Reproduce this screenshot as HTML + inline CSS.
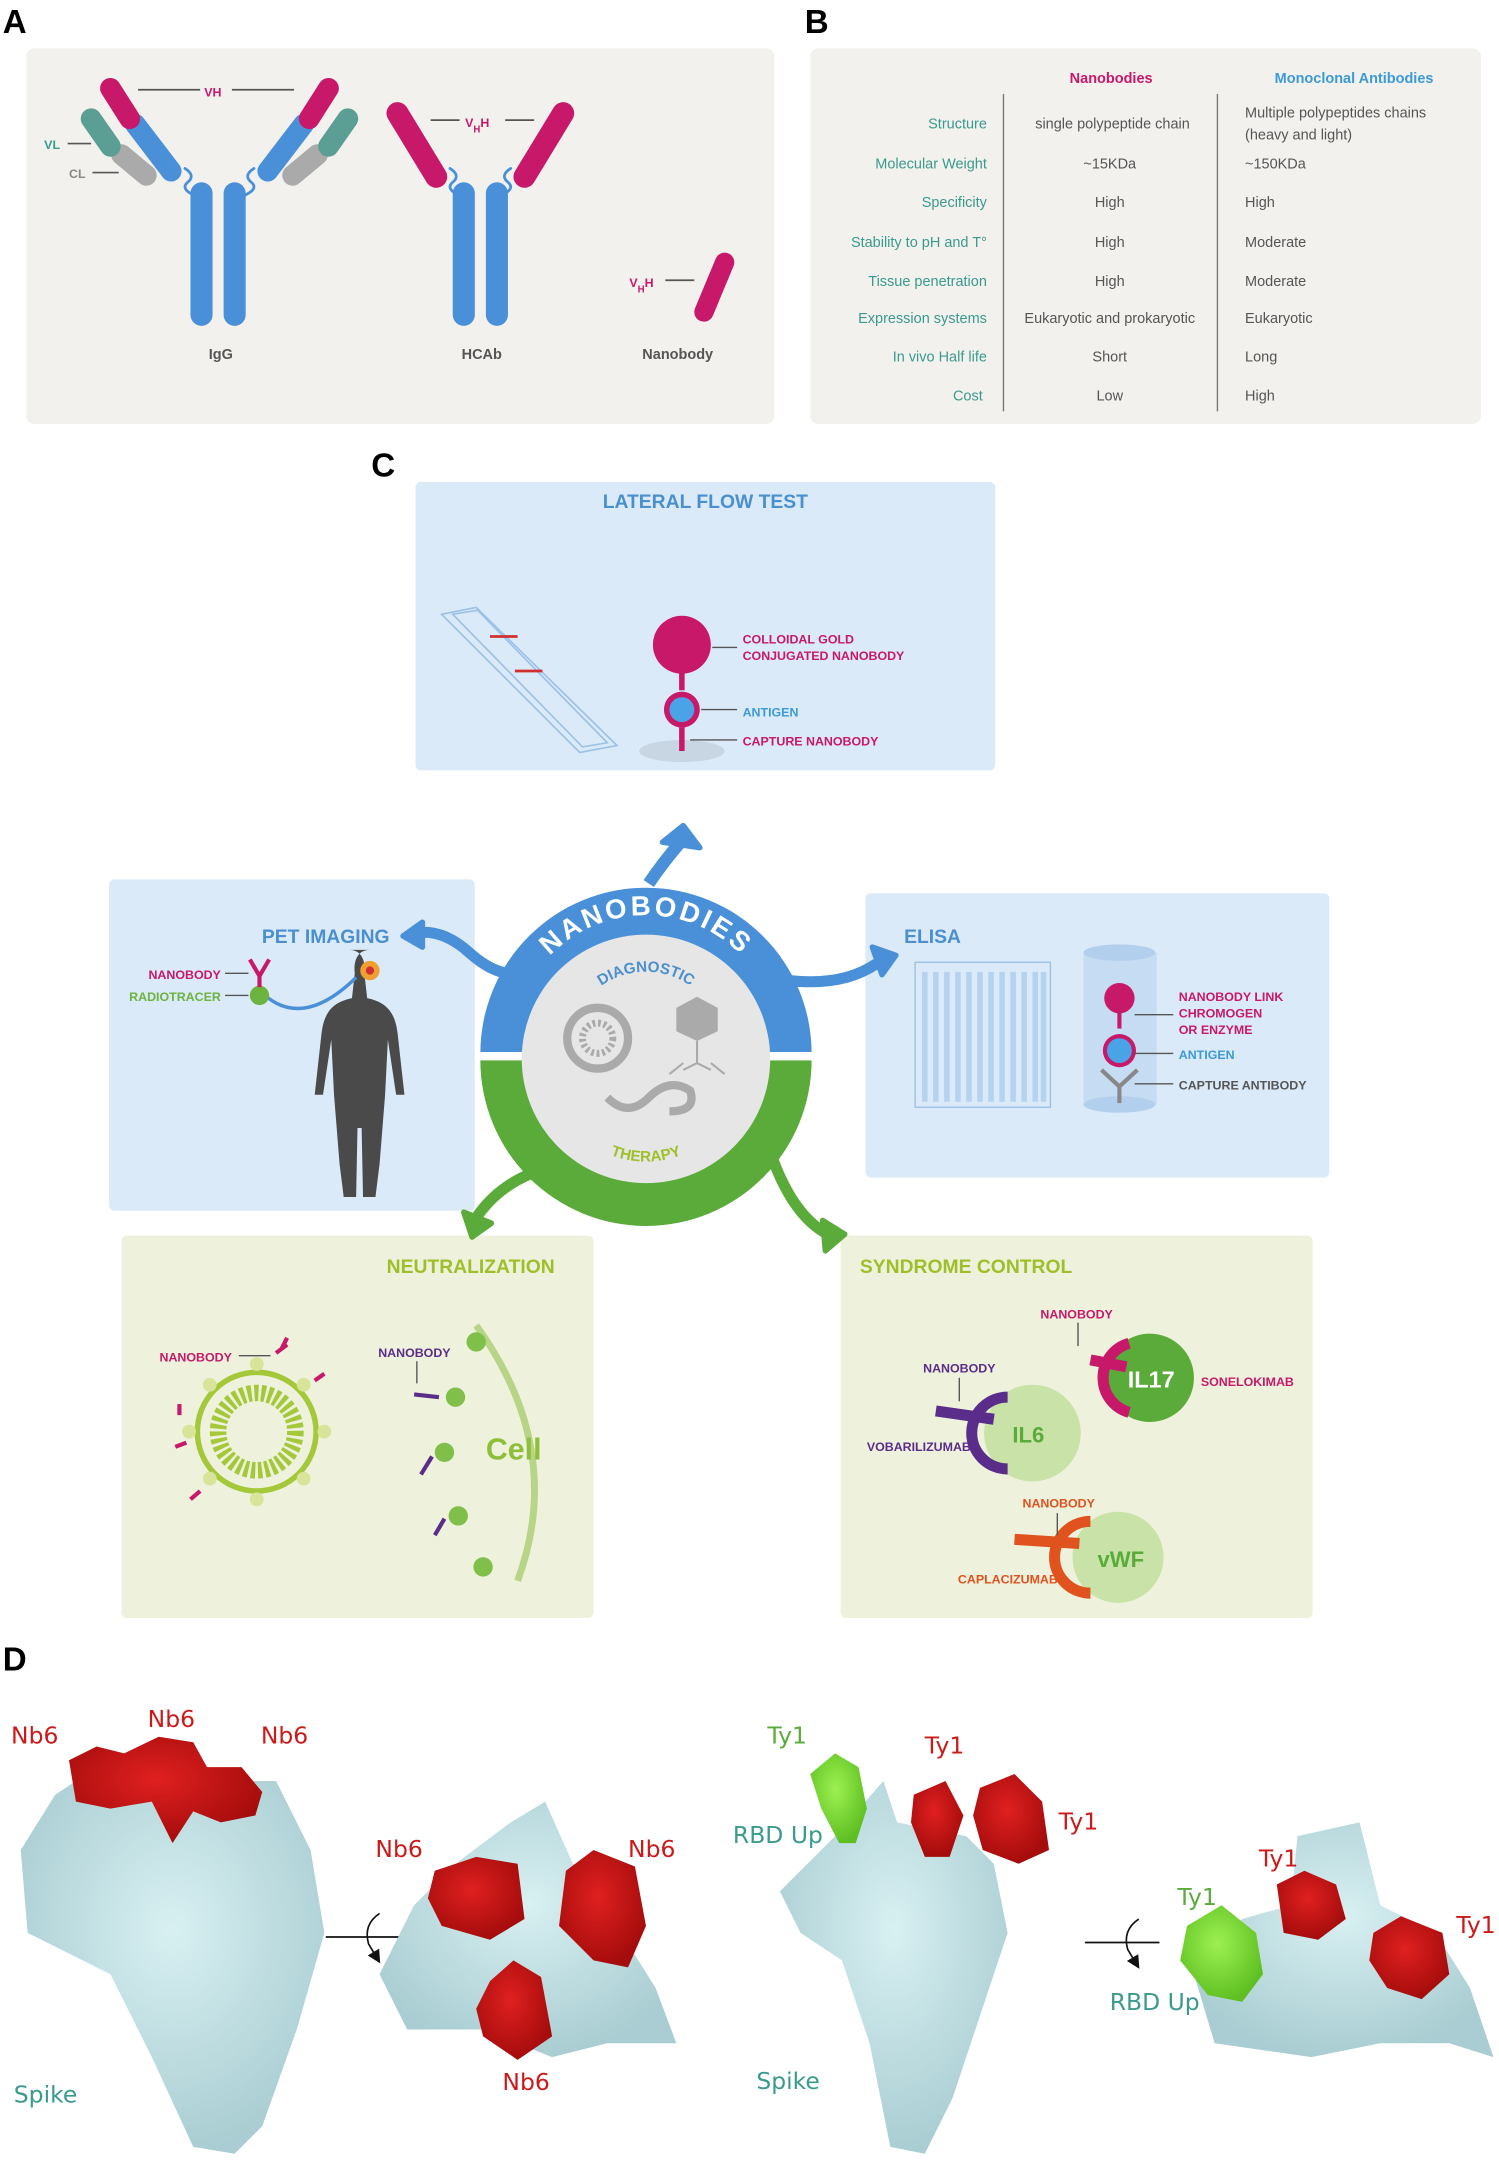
<!DOCTYPE html>
<html><head><meta charset="utf-8"><style>
html,body{margin:0;padding:0;background:#fff;}
svg{display:block;}
text{font-family:"Liberation Sans Narrow","Liberation Sans",sans-serif;}
.t{fill:#3a9a8e;font-size:10.5px;text-anchor:end;}
.g{fill:#555;font-size:10.5px;}
.gc{fill:#555;font-size:10.5px;text-anchor:middle;}
.hd{font-weight:bold;font-size:14px;}
.lb{font-weight:bold;font-size:9px;}
.big{font-family:"Liberation Sans",sans-serif;font-weight:bold;font-size:24px;fill:#000;}
.d{font-family:"DejaVu Sans","Liberation Sans",sans-serif;font-size:17px;}
</style></head><body>
<svg width="1499" height="2162" viewBox="0 0 1086 1566" preserveAspectRatio="none" xmlns="http://www.w3.org/2000/svg">
<defs>
<radialGradient id="prot" cx="50%" cy="40%" r="60%"><stop offset="0" stop-color="#d8f0f2"/><stop offset="1" stop-color="#a9cdd2"/></radialGradient>
<radialGradient id="red" cx="45%" cy="40%" r="60%"><stop offset="0" stop-color="#e02020"/><stop offset="1" stop-color="#a50c0c"/></radialGradient>
<radialGradient id="grn" cx="45%" cy="40%" r="60%"><stop offset="0" stop-color="#9cf050"/><stop offset="1" stop-color="#5fbf22"/></radialGradient>
<marker id="ah" markerWidth="8" markerHeight="8" refX="4" refY="4" orient="auto"><path d="M0,0 L8,4 L0,8 Z" fill="#111"/></marker>
</defs>
<text x="2" y="24" class="big">A</text>
<text x="583" y="24" class="big">B</text>
<rect x="19" y="35" width="542" height="272" rx="6" fill="#f3f1ee"/>
<rect x="587" y="35" width="486" height="272" rx="6" fill="#f3f1ee"/>
<g stroke-linecap="round" fill="none">
<line x1="146" y1="140" x2="146" y2="228" stroke="#4a90d9" stroke-width="16"/>
<line x1="170" y1="140" x2="170" y2="228" stroke="#4a90d9" stroke-width="16"/>
<line x1="88" y1="112" x2="106" y2="127" stroke="#aaa" stroke-width="15"/>
<line x1="66" y1="86" x2="80" y2="106" stroke="#5a9e94" stroke-width="15"/>
<line x1="98" y1="90" x2="124" y2="124" stroke="#4a90d9" stroke-width="15"/>
<line x1="80" y1="64" x2="94" y2="86" stroke="#c8186a" stroke-width="15"/>
<line x1="230" y1="112" x2="212" y2="127" stroke="#aaa" stroke-width="15"/>
<line x1="252" y1="86" x2="238" y2="106" stroke="#5a9e94" stroke-width="15"/>
<line x1="220" y1="90" x2="194" y2="124" stroke="#4a90d9" stroke-width="15"/>
<line x1="238" y1="64" x2="224" y2="86" stroke="#c8186a" stroke-width="15"/>
<path d="M134,122 q8,5 2,10 q-6,5 6,10" stroke="#4a90d9" stroke-width="2"/>
<path d="M184,122 q-8,5 -2,10 q6,5 -6,10" stroke="#4a90d9" stroke-width="2"/>
<line x1="336" y1="140" x2="336" y2="228" stroke="#4a90d9" stroke-width="16"/>
<line x1="360" y1="140" x2="360" y2="228" stroke="#4a90d9" stroke-width="16"/>
<line x1="288" y1="82" x2="316" y2="128" stroke="#c8186a" stroke-width="16"/>
<line x1="408" y1="82" x2="380" y2="128" stroke="#c8186a" stroke-width="16"/>
<path d="M326,122 q8,5 2,10 q-6,5 6,10" stroke="#4a90d9" stroke-width="2"/>
<path d="M370,122 q-8,5 -2,10 q6,5 -6,10" stroke="#4a90d9" stroke-width="2"/>
<line x1="525" y1="190" x2="510" y2="226" stroke="#c8186a" stroke-width="14"/>
</g>
<g stroke="#555" stroke-width="1.2">
<line x1="100" y1="65" x2="145" y2="65"/><line x1="168" y1="65" x2="213" y2="65"/>
<line x1="312" y1="87" x2="333" y2="87"/><line x1="366" y1="87" x2="387" y2="87"/>
<line x1="49" y1="104" x2="66" y2="104"/><line x1="67" y1="125" x2="86" y2="125"/>
<line x1="482" y1="203" x2="503" y2="203"/>
</g>
<text x="148" y="70" class="lb" fill="#c8186a" font-size="12">VH</text>
<text x="337" y="92" class="lb" fill="#c8186a" font-size="12">V<tspan font-size="7" dy="4">H</tspan><tspan dy="-4">H</tspan></text>
<text x="456" y="208" class="lb" fill="#c8186a" font-size="12">V<tspan font-size="7" dy="4">H</tspan><tspan dy="-4">H</tspan></text>
<text x="32" y="108" class="lb" fill="#3a9a8e" font-size="12">VL</text>
<text x="50" y="129" class="lb" fill="#888" font-size="12">CL</text>
<text x="160" y="260" class="gc" font-size="12" font-weight="bold" fill="#777">IgG</text>
<text x="349" y="260" class="gc" font-size="12" font-weight="bold" fill="#777">HCAb</text>
<text x="491" y="260" class="gc" font-size="12" font-weight="bold" fill="#777">Nanobody</text>
<text x="805" y="60" text-anchor="middle" font-size="10.5" font-weight="bold" fill="#c8186a">Nanobodies</text>
<text x="981" y="60" text-anchor="middle" font-size="10.5" font-weight="bold" fill="#3c9ad6">Monoclonal Antibodies</text>
<line x1="727" y1="68" x2="727" y2="298" stroke="#777"/><line x1="882" y1="68" x2="882" y2="298" stroke="#777"/>
<text x="715" y="93" class="t">Structure</text><text x="806" y="93" class="gc">single polypeptide chain</text><text x="902" y="85" class="g">Multiple polypeptides chains</text><text x="902" y="101" class="g">(heavy and light)</text>
<text x="715" y="122" class="t">Molecular Weight</text><text x="804" y="122" class="gc">~15KDa</text><text x="902" y="122" class="g">~150KDa</text>
<text x="715" y="150" class="t">Specificity</text><text x="804" y="150" class="gc">High</text><text x="902" y="150" class="g">High</text>
<text x="715" y="179" class="t">Stability to pH and T°</text><text x="804" y="179" class="gc">High</text><text x="902" y="179" class="g">Moderate</text>
<text x="715" y="207" class="t">Tissue penetration</text><text x="804" y="207" class="gc">High</text><text x="902" y="207" class="g">Moderate</text>
<text x="715" y="234" class="t">Expression systems</text><text x="804" y="234" class="gc" font-size="10">Eukaryotic and prokaryotic</text><text x="902" y="234" class="g">Eukaryotic</text>
<text x="715" y="262" class="t">In vivo Half life</text><text x="804" y="262" class="gc">Short</text><text x="902" y="262" class="g">Long</text>
<text x="712" y="290" class="t">Cost</text><text x="804" y="290" class="gc">Low</text><text x="902" y="290" class="g">High</text>
<text x="269" y="345" class="big">C</text>
<rect x="301" y="349" width="420" height="209" rx="4" fill="#dbeaf8"/>
<text x="511" y="368" text-anchor="middle" class="hd" fill="#4a8fd0">LATERAL FLOW TEST</text>
<g fill="none" stroke="#9dc0e6" stroke-width="1.2"><path d="M320,445 L345,440 L447,540 L420,545 Z"/><path d="M328,445 L346,442 L440,538 L422,541 Z"/></g>
<line x1="355" y1="461" x2="375" y2="461" stroke="#d03030" stroke-width="2"/><line x1="373" y1="486" x2="393" y2="486" stroke="#d03030" stroke-width="2"/>
<ellipse cx="494" cy="544" rx="31" ry="8" fill="#c8d6e4"/>
<circle cx="494" cy="467" r="21" fill="#c8186a"/><line x1="494" y1="486" x2="494" y2="500" stroke="#c8186a" stroke-width="4"/>
<circle cx="494" cy="514" r="13" fill="#c8186a"/><circle cx="494" cy="514" r="9" fill="#4aa3e6"/>
<line x1="494" y1="527" x2="494" y2="544" stroke="#c8186a" stroke-width="4"/>
<g stroke="#555"><line x1="516" y1="469" x2="534" y2="469"/><line x1="508" y1="514" x2="534" y2="514"/><line x1="500" y1="536" x2="534" y2="536"/></g>
<text x="538" y="466" class="lb" fill="#c8186a">COLLOIDAL GOLD</text><text x="538" y="478" class="lb" fill="#c8186a">CONJUGATED NANOBODY</text>
<text x="538" y="519" class="lb" fill="#3c9ad6">ANTIGEN</text><text x="538" y="540" class="lb" fill="#c8186a">CAPTURE NANOBODY</text>
<rect x="79" y="637" width="265" height="240" rx="4" fill="#dbeaf8"/>
<text x="236" y="683" text-anchor="middle" class="hd" fill="#4a8fd0">PET IMAGING</text>
<path d="M268,688 c-9,0 -12,8 -11,17 l-2,18 c-14,3 -20,10 -22,25 l-5,45 l6,0 l6,-40 l2,40 l4,50 l3,24 l9,0 l1,-50 l3,0 l1,50 l9,0 l3,-24 l4,-50 l2,-40 l6,40 l6,0 l-5,-45 c-2,-15 -8,-22 -22,-25 l-2,-18 c1,-9 -2,-17 -11,-17 Z" fill="#4a4a4a"/>
<circle cx="268" cy="703" r="7" fill="#f0a030"/><circle cx="268" cy="703" r="3" fill="#d03030"/>
<path d="M192,721 Q220,745 258,708" fill="none" stroke="#4a90d9" stroke-width="2.5"/>
<circle cx="188" cy="721" r="7" fill="#6cb33f"/>
<path d="M181,695 l7,12 l7,-12 M188,707 l0,8" fill="none" stroke="#c8186a" stroke-width="3"/>
<g stroke="#555"><line x1="163" y1="705" x2="180" y2="705"/><line x1="163" y1="721" x2="180" y2="721"/></g>
<text x="160" y="709" class="lb" fill="#c8186a" text-anchor="end">NANOBODY</text>
<text x="160" y="725" class="lb" fill="#6cb33f" text-anchor="end">RADIOTRACER</text>
<rect x="627" y="647" width="336" height="206" rx="4" fill="#dbeaf8"/>
<text x="655" y="683" class="hd" fill="#4a8fd0">ELISA</text>
<rect x="663" y="697" width="98" height="105" fill="none" stroke="#9dc0e6"/>
<g stroke="#b5d2ef" stroke-width="4">
<line x1="670" y1="704" x2="670" y2="798"/><line x1="678" y1="704" x2="678" y2="798"/><line x1="686" y1="704" x2="686" y2="798"/><line x1="694" y1="704" x2="694" y2="798"/><line x1="702" y1="704" x2="702" y2="798"/><line x1="710" y1="704" x2="710" y2="798"/><line x1="718" y1="704" x2="718" y2="798"/><line x1="726" y1="704" x2="726" y2="798"/><line x1="734" y1="704" x2="734" y2="798"/><line x1="742" y1="704" x2="742" y2="798"/><line x1="750" y1="704" x2="750" y2="798"/><line x1="756" y1="704" x2="756" y2="798"/></g>
<rect x="785" y="690" width="53" height="110" fill="#c5dcf2"/><ellipse cx="811" cy="690" rx="26" ry="6" fill="#b2d0ee"/><ellipse cx="811" cy="800" rx="26" ry="6" fill="#b2d0ee"/>
<circle cx="811" cy="723" r="11" fill="#c8186a"/><line x1="811" y1="733" x2="811" y2="745" stroke="#c8186a" stroke-width="3"/>
<circle cx="811" cy="761" r="12" fill="#c8186a"/><circle cx="811" cy="761" r="9" fill="#4aa3e6"/>
<path d="M798,775 l13,12 l13,-12 M811,787 l0,12" fill="none" stroke="#888" stroke-width="3"/>
<g stroke="#555"><line x1="822" y1="735" x2="850" y2="735"/><line x1="822" y1="763" x2="850" y2="763"/><line x1="822" y1="785" x2="850" y2="785"/></g>
<text x="854" y="725" class="lb" fill="#c8186a">NANOBODY LINK</text><text x="854" y="737" class="lb" fill="#c8186a">CHROMOGEN</text><text x="854" y="749" class="lb" fill="#c8186a">OR ENZYME</text>
<text x="854" y="767" class="lb" fill="#3c9ad6">ANTIGEN</text><text x="854" y="789" class="lb" fill="#555">CAPTURE ANTIBODY</text>
<rect x="88" y="895" width="342" height="277" rx="4" fill="#eef2dc"/>
<text x="341" y="922" text-anchor="middle" class="hd" fill="#9fbf2a">NEUTRALIZATION</text>
<circle cx="186" cy="1037" r="43" fill="none" stroke="#a5c83a" stroke-width="4"/>
<circle cx="186" cy="1037" r="28" fill="none" stroke="#a5c83a" stroke-width="12" stroke-dasharray="3 2"/>
<g fill="#d8e49a"><circle cx="186" cy="988" r="5"/><circle cx="186" cy="1086" r="5"/><circle cx="137" cy="1037" r="5"/><circle cx="235" cy="1037" r="5"/><circle cx="152" cy="1003" r="5"/><circle cx="220" cy="1071" r="5"/><circle cx="220" cy="1003" r="5"/><circle cx="152" cy="1071" r="5"/></g>
<g stroke="#c8186a" stroke-width="3" fill="none"><path d="M200,980 l8,-6 M204,977 l4,-8"/><path d="M228,1000 l7,-5"/><path d="M135,1045 l-8,3"/><path d="M145,1080 l-7,6"/><path d="M130,1025 l0,-8"/></g>
<path d="M345,960 Q410,1050 375,1145" fill="none" stroke="#b8d486" stroke-width="5"/>
<text x="352" y="1057" font-size="22" font-weight="bold" fill="#8fbf3a">Cell</text>
<g fill="#7fbf4a"><circle cx="345" cy="972" r="7"/><circle cx="330" cy="1012" r="7"/><circle cx="322" cy="1052" r="7"/><circle cx="332" cy="1098" r="7"/><circle cx="350" cy="1135" r="7"/></g>
<g stroke="#5a2d8a" stroke-width="3"><line x1="300" y1="1010" x2="318" y2="1012"/><line x1="305" y1="1068" x2="313" y2="1055"/><line x1="315" y1="1112" x2="322" y2="1100"/></g>
<g stroke="#555"><line x1="173" y1="982" x2="196" y2="982"/><line x1="302" y1="986" x2="302" y2="1002"/></g>
<text x="168" y="986" class="lb" fill="#c8186a" text-anchor="end">NANOBODY</text>
<text x="274" y="983" class="lb" fill="#5a2d8a">NANOBODY</text>
<rect x="609" y="895" width="342" height="277" rx="4" fill="#eef2dc"/>
<text x="623" y="922" class="hd" fill="#9fbf2a">SYNDROME CONTROL</text>
<circle cx="833" cy="998" r="32" fill="#5aab3a"/><text x="834" y="1005" text-anchor="middle" font-size="17" font-weight="bold" fill="#fff">IL17</text>
<path d="M818,973 a26,26 0 0 0 0,50" fill="none" stroke="#c8186a" stroke-width="8"/><line x1="790" y1="985" x2="816" y2="990" stroke="#c8186a" stroke-width="8"/>
<circle cx="748" cy="1038" r="35" fill="#c8e2a8"/><text x="745" y="1045" text-anchor="middle" font-size="16" font-weight="bold" fill="#5aab3a">IL6</text>
<path d="M730,1012 a26,26 0 0 0 0,52" fill="none" stroke="#5a2d8a" stroke-width="8"/><line x1="678" y1="1022" x2="720" y2="1028" stroke="#5a2d8a" stroke-width="8"/>
<circle cx="810" cy="1128" r="33" fill="#c8e2a8"/><text x="812" y="1135" text-anchor="middle" font-size="16" font-weight="bold" fill="#5aab3a">vWF</text>
<path d="M790,1102 a26,26 0 0 0 0,52" fill="none" stroke="#e0521e" stroke-width="8"/><line x1="735" y1="1115" x2="782" y2="1118" stroke="#e0521e" stroke-width="8"/>
<g stroke="#555"><line x1="781" y1="958" x2="781" y2="975"/><line x1="695" y1="998" x2="695" y2="1015"/><line x1="766" y1="1096" x2="766" y2="1112"/></g>
<text x="780" y="955" text-anchor="middle" class="lb" fill="#c8186a">NANOBODY</text>
<text x="870" y="1004" class="lb" fill="#c8186a">SONELOKIMAB</text>
<text x="695" y="994" text-anchor="middle" class="lb" fill="#5a2d8a">NANOBODY</text>
<text x="628" y="1051" class="lb" fill="#5a2d8a">VOBARILIZUMAB</text>
<text x="767" y="1092" text-anchor="middle" class="lb" fill="#e0521e">NANOBODY</text>
<text x="694" y="1147" class="lb" fill="#e0521e">CAPLACIZUMAB</text>
<path d="M300,676 Q320,672 340,690 Q360,708 378,705" fill="none" stroke="#4a90d9" stroke-width="8"/>
<path d="M306,668 l-14,10 l14,8 Z" fill="#4a90d9" stroke="#4a90d9" stroke-width="4" stroke-linejoin="round"/>
<path d="M470,640 Q480,625 493,610" fill="none" stroke="#4a90d9" stroke-width="9"/><path d="M480,610 l15,-12 l12,16 Z" fill="#4a90d9" stroke="#4a90d9" stroke-width="4" stroke-linejoin="round"/>
<path d="M570,710 Q610,715 635,698" fill="none" stroke="#4a90d9" stroke-width="8"/><path d="M632,686 l17,6 l-10,14 Z" fill="#4a90d9" stroke="#4a90d9" stroke-width="4" stroke-linejoin="round"/>
<path d="M385,850 Q360,860 345,882" fill="none" stroke="#5aab3a" stroke-width="8"/><path d="M336,878 l6,18 l14,-10 Z" fill="#5aab3a" stroke="#5aab3a" stroke-width="4" stroke-linejoin="round"/>
<path d="M560,840 Q575,880 598,893" fill="none" stroke="#5aab3a" stroke-width="8"/><path d="M596,884 l16,10 l-14,12 Z" fill="#5aab3a" stroke="#5aab3a" stroke-width="4" stroke-linejoin="round"/>
<path d="M348,763 A120,120 0 0 1 588,763 Z" fill="#4a90d9"/>
<path d="M348,768 A120,120 0 0 0 588,768 Z" fill="#5aab3a"/>
<rect x="348" y="762" width="240" height="6" fill="#fff"/>
<circle cx="468" cy="767" r="90" fill="#e6e6e6"/>
<path id="arcN" d="M372,746 A97,97 0 0 1 564,746" fill="none"/>
<text font-size="20" font-weight="bold" fill="#fff" letter-spacing="2"><textPath href="#arcN" startOffset="50%" text-anchor="middle">NANOBODIES</textPath></text>
<path id="arcD" d="M414,745 A56,56 0 0 1 522,745" fill="none"/>
<text font-size="11" font-weight="bold" fill="#4a8fd0"><textPath href="#arcD" startOffset="50%" text-anchor="middle">DIAGNOSTIC</textPath></text>
<path id="arcT" d="M410,812 A72,72 0 0 0 526,812" fill="none"/>
<text font-size="11" font-weight="bold" fill="#9fbf2a"><textPath href="#arcT" startOffset="50%" text-anchor="middle">THERAPY</textPath></text>
<circle cx="433" cy="752" r="22" fill="none" stroke="#aaa" stroke-width="6"/><circle cx="433" cy="752" r="11" fill="none" stroke="#aaa" stroke-width="5" stroke-dasharray="2 2"/>
<polygon points="505,722 520,730 520,747 505,754 490,747 490,730" fill="#aaa"/><path d="M505,754 v16 M495,770 l-10,8 M515,770 l10,8 M505,770 l-10,5 M505,770 l10,5" stroke="#aaa" stroke-width="1.5"/>
<path d="M440,795 q15,15 30,0 q15,-15 30,-5 q5,15 -15,15" fill="none" stroke="#aaa" stroke-width="6"/>
<text x="2" y="1210" class="big">D</text>
<path d="M55,1290 L200,1290 L225,1340 L235,1400 L215,1470 L190,1540 L170,1560 L140,1555 L110,1490 L80,1430 L20,1400 L15,1340 L40,1300 Z" fill="url(#prot)"/>
<path d="M50,1275 L70,1265 L90,1270 L115,1258 L140,1262 L150,1280 L175,1280 L190,1298 L185,1315 L160,1320 L140,1312 L125,1335 L110,1305 L80,1310 L55,1305 Z" fill="url(#red)"/>
<text x="8" y="1263" class="d" fill="#cc1a1a">Nb6</text><text x="107" y="1251" class="d" fill="#cc1a1a">Nb6</text><text x="189" y="1263" class="d" fill="#cc1a1a">Nb6</text>
<text x="10" y="1523" class="d" fill="#3a9a8e">Spike</text>
<line x1="236" y1="1403" x2="290" y2="1403" stroke="#111" stroke-width="1.3"/><path d="M275,1386 q-12,8 -8,22 l6,10" fill="none" stroke="#111" stroke-width="1.2" marker-end="url(#ah)"/>
<path d="M370,1320 L395,1305 L415,1350 L445,1355 L450,1400 L475,1440 L490,1480 L440,1480 L400,1490 L350,1470 L295,1470 L275,1430 L300,1380 L330,1350 Z" fill="url(#prot)"/>
<path d="M315,1355 L345,1345 L375,1350 L380,1390 L355,1405 L320,1395 L310,1375 Z" fill="url(#red)"/>
<path d="M410,1355 L430,1340 L460,1352 L468,1395 L455,1425 L430,1420 L405,1395 Z" fill="url(#red)"/>
<path d="M355,1435 L372,1420 L392,1432 L400,1475 L375,1492 L350,1475 L345,1455 Z" fill="url(#red)"/>
<text x="272" y="1345" class="d" fill="#cc1a1a">Nb6</text><text x="455" y="1345" class="d" fill="#cc1a1a">Nb6</text><text x="364" y="1514" class="d" fill="#cc1a1a">Nb6</text>
<path d="M605,1330 L640,1290 L650,1320 L700,1330 L720,1350 L730,1400 L710,1460 L690,1520 L670,1560 L645,1555 L630,1480 L610,1420 L580,1400 L565,1370 Z" fill="url(#prot)"/>
<path d="M587,1285 L605,1270 L622,1280 L628,1310 L620,1335 L608,1335 L595,1310 Z" fill="url(#grn)"/>
<path d="M662,1300 L685,1290 L698,1315 L688,1345 L670,1345 L660,1320 Z" fill="url(#red)"/>
<path d="M710,1295 L735,1285 L755,1305 L760,1340 L738,1350 L712,1340 L705,1315 Z" fill="url(#red)"/>
<text x="556" y="1263" class="d" fill="#5aab3a">Ty1</text><text x="670" y="1270" class="d" fill="#cc1a1a">Ty1</text><text x="767" y="1325" class="d" fill="#cc1a1a">Ty1</text>
<text x="531" y="1335" class="d" fill="#3a9a8e">RBD Up</text><text x="548" y="1513" class="d" fill="#3a9a8e">Spike</text>
<line x1="786" y1="1407" x2="840" y2="1407" stroke="#111" stroke-width="1.3"/><path d="M825,1390 q-12,8 -8,22 l6,10" fill="none" stroke="#111" stroke-width="1.2" marker-end="url(#ah)"/>
<path d="M940,1330 L985,1320 L1000,1380 L1040,1400 L1065,1440 L1082,1490 L1050,1480 L1000,1480 L950,1490 L880,1480 L862,1420 L900,1390 L935,1380 Z" fill="url(#prot)"/>
<path d="M860,1395 L885,1380 L910,1400 L915,1430 L900,1450 L875,1445 L855,1420 Z" fill="url(#grn)"/>
<path d="M925,1365 L945,1355 L968,1365 L975,1390 L955,1405 L930,1400 Z" fill="url(#red)"/>
<path d="M995,1400 L1015,1388 L1045,1400 L1050,1430 L1030,1448 L1005,1440 L992,1420 Z" fill="url(#red)"/>
<text x="912" y="1352" class="d" fill="#cc1a1a">Ty1</text><text x="853" y="1380" class="d" fill="#5aab3a">Ty1</text><text x="1055" y="1400" class="d" fill="#cc1a1a">Ty1</text>
<text x="804" y="1456" class="d" fill="#3a9a8e">RBD Up</text>
</svg>
</body></html>
